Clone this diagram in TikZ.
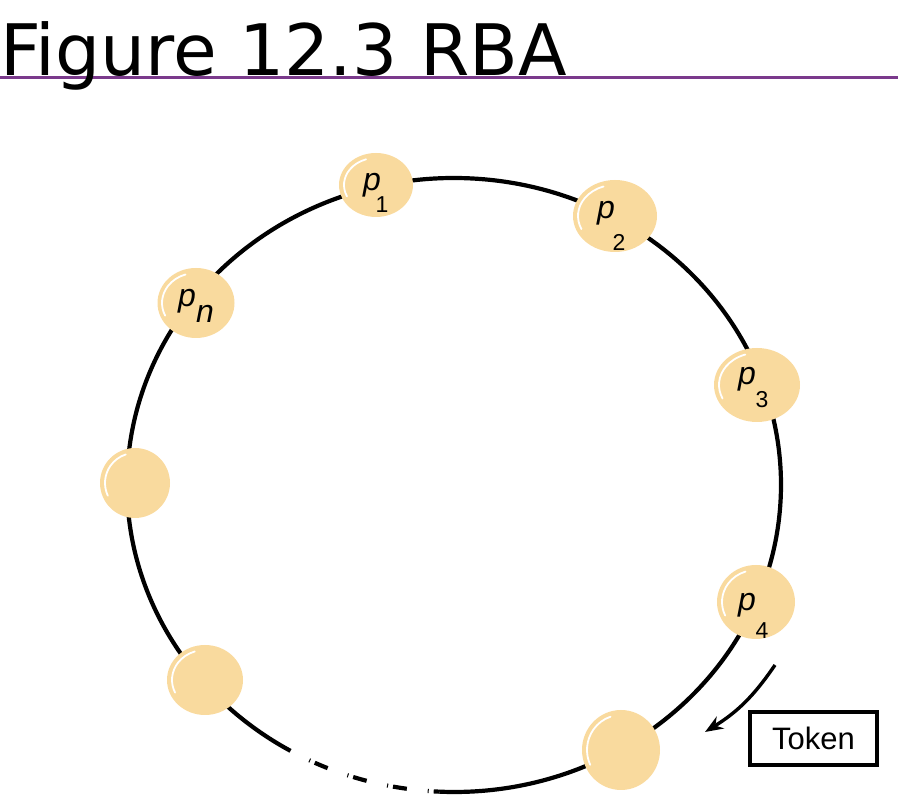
\documentclass[tikz,border=0pt]{standalone}
\usepackage{fontspec}
\setmainfont{Liberation Sans}
\newfontfamily\titlefont{DejaVu Sans}
\usetikzlibrary{shapes.geometric,arrows.meta}
\definecolor{nodefill}{HTML}{F9DA9E}
\definecolor{rulepurple}{HTML}{7B3A8C}
\tikzset{
  proc/.style={ellipse, fill=nodefill, inner sep=0pt},
  ring/.style={line width=4.2pt, black},
  hl/.style={white, line width=1.8pt, line cap=round},
  plabel/.style={inner sep=0pt, font=\fontsize{32}{32}\selectfont\itshape},
  sublabel/.style={inner sep=0pt, font=\fontsize{23}{23}\selectfont},
  tokenbox/.style={draw, line width=3.2pt, inner sep=0pt, minimum width=127pt, minimum height=53pt, font=\fontsize{31}{31}\selectfont},
  tokenarrow/.style={line width=3.4pt, -{Stealth[length=18pt,width=14pt]}},
}
\newcommand\myhl[3]{\draw[hl] (#1.center) ++(205:#2pt and #3pt) arc[start angle=205, end angle=108, x radius=#2pt, y radius=#3pt];}
\begin{document}
\begin{tikzpicture}[x=1pt,y=1pt]
\useasboundingbox (0,0) rectangle (898,808);
% title
\draw[rulepurple, line width=3pt] (0,730.5) -- (898,730.5);
\node[anchor=base west, inner sep=0pt, font=\titlefont\fontsize{71}{71}\selectfont] (title) at (0,732) {Figure 12.3 RBA};
% ring
\coordinate (C) at (454,323);
\path (C) ++(267.5:327pt and 307pt) coordinate (s1);
\path (C) ++(240:327pt and 307pt) coordinate (s2);
\draw[ring] (s1) arc[start angle=267.5, end angle=600, x radius=327pt, y radius=307pt];
\draw[ring, dash pattern=on 1pt off 5pt on 14pt off 21pt, dash phase=20pt] (s2) arc[start angle=240, end angle=267.5, x radius=327pt, y radius=307pt];
% processes
\node[proc, minimum width=74pt, minimum height=64pt] (p1) at (376,623) {};
\node[proc, minimum width=84pt, minimum height=72pt] (p2) at (615,592) {};
\node[proc, minimum width=86pt, minimum height=74pt] (p3) at (757,423) {};
\node[proc, minimum width=78pt, minimum height=74pt] (p4) at (756,206) {};
\node[proc, minimum width=78pt, minimum height=80pt] (p5) at (621,58) {};
\node[proc, minimum width=76pt, minimum height=70pt] (p6) at (205,128) {};
\node[proc, minimum width=70pt, minimum height=70pt] (p7) at (135,325) {};
\node[proc, minimum width=77pt, minimum height=70pt] (pn) at (196,505) {};
% highlights
\myhl{p1}{32}{27}
\myhl{p2}{37}{31}
\myhl{p3}{38}{32}
\myhl{p4}{34}{32}
\myhl{p5}{34}{35}
\myhl{p6}{33}{30}
\myhl{p7}{30}{30}
\myhl{pn}{34}{30}
% labels
\node[plabel] (p1a) at (372,623) {p};
\node[sublabel] (p1b) at (382,603) {1};
\node[plabel] (p2a) at (606,595) {p};
\node[sublabel] (p2b) at (619,566) {2};
\node[plabel] (p3a) at (747,429) {p};
\node[sublabel] (p3b) at (762,408) {3};
\node[plabel] (p4a) at (747,203) {p};
\node[sublabel] (p4b) at (762,177) {4};
\node[plabel] (pna) at (187,507) {p};
\node[plabel] (pnb) at (205,494) {n};
% token
\node[tokenbox] (token) at (813.5,69.5) {Token};
\coordinate (a1) at (775,143);
\coordinate (a2) at (705,76);
\draw[tokenarrow] (a1) to[bend left=12] (a2);
\end{tikzpicture}
\end{document}
